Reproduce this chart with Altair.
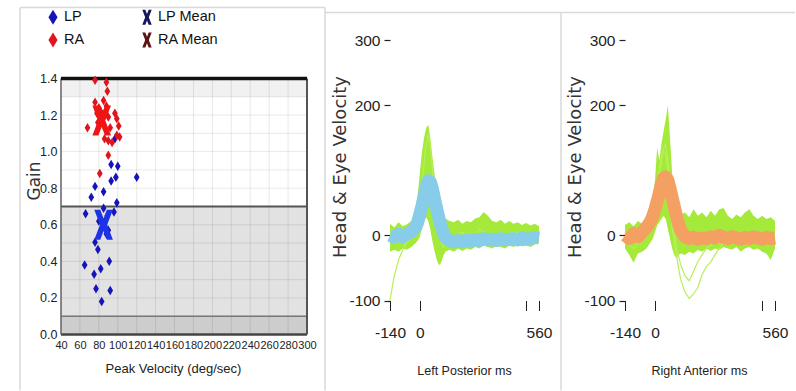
import altair as alt
import pandas as pd

# ---------------- left panel: gain vs peak velocity ----------------
lp_vel = [97, 93, 100, 93, 98, 120, 76, 85, 72, 99, 66, 85, 96, 89, 80, 90, 76, 79, 91, 65, 82, 75, 77, 92, 83, 88]
lp_gain = [1.07, 0.93, 0.92, 0.84, 0.86, 0.86, 0.81, 0.78, 0.75, 0.72, 0.66, 0.69, 0.67, 0.65, 0.62, 0.57, 0.505,
           0.465, 0.40, 0.38, 0.36, 0.33, 0.25, 0.24, 0.18, 0.55]
ra_vel = [76, 88, 89, 76, 85, 80, 78, 82, 88, 97, 99, 90, 84, 79, 68, 92, 101, 99, 102, 86, 90, 94, 90, 81]
ra_gain = [1.39, 1.38, 1.33, 1.27, 1.28, 1.24, 1.21, 1.22, 1.25, 1.21, 1.18, 1.19, 1.15, 1.16, 1.13, 1.13, 1.14,
           1.09, 1.08, 1.07, 1.06, 1.05, 0.98, 0.88]
lp_mean = (85, 0.60)
ra_mean = (83, 1.17)

band_lo = [0.0, 0.1, 0.7, 1.3]
band_hi = [0.1, 0.7, 1.3, 1.4]
band_name = ["low", "gray", "normal", "high"]
vel_ticks = [40, 60, 80, 100, 120, 140, 160, 180, 200, 220, 240, 260, 280, 300]
gain_ticks = [0.0, 0.2, 0.4, 0.6, 0.8, 1.0, 1.2, 1.4]
gain_grid = [0.0, 0.1, 0.2, 0.3, 0.4, 0.5, 0.6, 0.7, 0.8, 0.9, 1.0, 1.1, 1.2, 1.3, 1.4]
series_names = ["LP", "LP Mean", "RA", "RA Mean"]

# ---------------- velocity traces ----------------
times = [-140, -120, -100, -80, -60, -40, -20,
         -10, 0, 10, 20, 30, 40, 50, 60, 70, 80, 90, 100, 110, 120,
         140, 160, 180, 200, 220, 240, 260, 280, 300, 320, 340, 360, 380, 400, 420, 440, 460, 480, 500, 520, 540, 560]

lp_green_hi = [18, 12, 20, 14, 17, 22, 40,
               62, 95, 128, 150, 165, 170, 148, 118, 92, 68, 50, 38, 30, 26,
               22, 20, 24, 18, 22, 20, 26, 28, 36, 30, 22, 20, 24, 18, 22, 18, 20, 16, 19, 15, 18, 14]
lp_green_lo = [-25, -22, -25, -20, -22, -18, -12,
               -8, -2, 10, 22, 28, 22, 8, -10, -25, -38, -46, -42, -32, -25,
               -22, -25, -20, -24, -20, -22, -18, -20, -15, -18, -20, -16, -18, -20, -16, -18, -14, -17, -15, -18, -14, -12]
lp_trace = [-100, -62, -38, -22, -10, -5, 5,
            15, 40, 75, 110, 140, 155, 135, 100, 65, 30, 5, -10, -18, -15,
            -10, -5, 0, 5, 0, -5, 0, 10, 5, 0, -5, 0, 5, 0, -5, 0, 5, 0, -3, 2, 0, -2]
lp_mean_trace = [0, -3, 2, -2, 2, 6, 12,
                 20, 32, 45, 60, 75, 84, 82, 70, 55, 40, 26, 14, 4, -3,
                 -8, -10, -8, -10, -7, -9, -6, -8, -5, -7, -6, -8, -5, -7, -6, -5, -7, -4, -6, -5, -3, -4]

ra_green_hi = [16, 20, 14, 22, 18, 25, 38,
               60, 85, 135, 115, 140, 160, 178, 200, 150, 95, 60, 45, 38, 32,
               35, 28, 40, 30, 35, 28, 38, 30, 40, 42, 30, 25, 32, 28, 35, 40, 30, 25, 30, 25, 28, 22]
ra_green_lo = [-20, -30, -42, -28, -25, -20, -10,
               -5, 5, 15, 20, 25, 30, 25, 10, -5, -20, -30, -35, -30, -28,
               -30, -25, -28, -22, -25, -20, -24, -20, -22, -18, -20, -22, -18, -25, -20, -18, -22, -20, -25, -28, -38, -20]
ra_trace1 = [-10, -15, -20, -12, -8, 0, 10,
             25, 45, 70, 95, 115, 130, 125, 100, 60, 10, -10, -30, -50, -68,
             -87, -97, -90, -80, -60, -48, -41, -30, -20, -12, -8, -12, -6, -10, -4, -8, -2, -6, -3, -8, -4, -6]
ra_trace2 = [5, 0, -8, 2, -5, 3, 15,
             30, 55, 80, 100, 120, 135, 140, 115, 80, 40, 10, -20, -32, -45,
             -62, -70, -55, -40, -30, -20, -15, -8, -12, -5, -8, -3, -10, -4, -6, -2, -8, -4, -6, -2, -5, -3]
ra_mean_trace = [0, -5, 3, -2, 5, 12, 22,
                 30, 40, 52, 65, 78, 88, 90, 85, 72, 58, 44, 30, 18, 8,
                 -2, -5, -3, -6, -4, -5, -2, -4, 0, -3, -5, -2, -4, -6, -3, -5, -2, -4, -6, -3, -5, -4]

# ---------------- styling ----------------
NARROW = "Liberation Sans"
WIDE = "DejaVu Sans"
C_LP, C_RA = "#1414b8", "#e0141c"
C_LPM_LEG, C_RAM_LEG = "#16165a", "#5a1616"
C_LPM, C_RAM = "#1e32e6", "#f01414"
GREEN, GREEN2 = "#a5ea3a", "#b8ef5a"
BLUE, ORANGE = "#87cdea", "#f4a062"
BORDER = "#d9d9d9"
DIAMOND = "M0,-1L0.6,0L0,1L-0.6,0Z"
XSHAPE = "M-0.62,-1L-0.22,-1L0,-0.42L0.22,-1L0.62,-1L0.24,0L0.62,1L0.22,1L0,0.42L-0.22,1L-0.62,1L-0.24,0Z"

W1, H1 = 246, 294.5
W2, W3, H2 = 152, 150, 260.5

one = pd.DataFrame({"k": [0]})

# ---------------- panel 1 ----------------
xs1 = alt.Scale(domain=[40, 300], nice=False, zero=False)
ys1 = alt.Scale(domain=[0, 1.6105], nice=False, zero=False)

ax_x1 = alt.Axis(values=vel_ticks, labelFont=NARROW, labelFontSize=11, labelColor="#222", labelPadding=5,
                 ticks=False, domain=False, grid=False, labelFlush=False, labelOverlap=False,
                 title="Peak Velocity (deg/sec)", titleFont=NARROW, titleFontSize=13, titleFontWeight="normal",
                 titleColor="#222", titleX=112, titleY=34, titleBaseline="middle", titleAlign="center")
ax_y1 = alt.Axis(values=gain_ticks, format=".1f", labelFont=NARROW, labelFontSize=12.5, labelColor="#222",
                 labelPadding=4, ticks=False, domain=False, grid=False, labelOverlap=False,
                 title="Gain", titleFont=WIDE, titleFontSize=17, titleFontWeight="normal", titleColor="#333",
                 titleX=-27, titleY=140.5, titleAngle=270, titleAlign="center", titleBaseline="middle")

bands = alt.Chart(pd.DataFrame({"lo": band_lo, "hi": band_hi, "b": band_name})).mark_rect().encode(
    x=alt.value(0), x2=alt.value(W1),
    y=alt.Y("lo:Q", scale=ys1, axis=None), y2="hi:Q",
    fill=alt.Fill("b:N", scale=alt.Scale(domain=band_name, range=["#cdcdcd", "#e2e2e2", "#ffffff", "#f1f1f1"]),
                  legend=None),
)
vgrid = alt.Chart(pd.DataFrame({"v": vel_ticks})).mark_rule(color="#000", opacity=0.09).encode(
    x=alt.X("v:Q", scale=xs1, axis=None),
    y=alt.YDatum(0, scale=ys1, axis=None), y2=alt.Y2Datum(1.4))
hgrid = alt.Chart(pd.DataFrame({"g": gain_grid})).mark_rule(color="#000", opacity=0.09).encode(
    y=alt.Y("g:Q", scale=ys1, axis=None), x=alt.value(0), x2=alt.value(W1))


def hline(val, color, width):
    return alt.Chart(one).mark_rule(color=color, strokeWidth=width).encode(
        y=alt.YDatum(val, scale=ys1, axis=None), x=alt.value(0), x2=alt.value(W1))


def vline(val, color, width):
    return alt.Chart(one).mark_rule(color=color, strokeWidth=width).encode(
        x=alt.XDatum(val, scale=xs1, axis=None), y=alt.YDatum(0, scale=ys1, axis=None), y2=alt.Y2Datum(1.4))


frame = [hline(0.1, "#777", 1.5), hline(0.7, "#555", 2), hline(0.0, "#444", 2.5),
         vline(40, "#666", 1.5), vline(300, "#555", 2), hline(1.4, "#111", 3.5)]

pts_df = pd.DataFrame({
    "vel": lp_vel + ra_vel,
    "gain": lp_gain + ra_gain,
    "series": ["LP"] * len(lp_vel) + ["RA"] * len(ra_vel),
})
leg = alt.Legend(title=None, orient="none", legendX=-16, legendY=-31, direction="horizontal", columns=2,
                 columnPadding=54, rowPadding=7, symbolSize=230, symbolStrokeWidth=0, labelFont=NARROW,
                 labelFontSize=14.5, labelColor="#111", labelOffset=3, padding=0)
pts = alt.Chart(pts_df).mark_point(filled=True, opacity=1, size=90, strokeWidth=0).encode(
    x=alt.X("vel:Q", scale=xs1, axis=ax_x1),
    y=alt.Y("gain:Q", scale=ys1, axis=ax_y1),
    color=alt.Color("series:N", scale=alt.Scale(domain=series_names, range=[C_LP, C_LPM_LEG, C_RA, C_RAM_LEG]),
                    legend=leg),
    shape=alt.Shape("series:N", scale=alt.Scale(domain=series_names, range=[DIAMOND, XSHAPE, DIAMOND, XSHAPE]),
                    legend=leg),
)


def mean_mark(mv, color):
    return alt.Chart(pd.DataFrame({"vel": [mv[0]], "gain": [mv[1]]})).mark_point(
        filled=True, opacity=1, size=900, strokeWidth=0, shape=XSHAPE, color=color).encode(
        x=alt.X("vel:Q", scale=xs1, axis=None), y=alt.Y("gain:Q", scale=ys1, axis=None))


def rule_px(x, y, x2=None, y2=None, color=BORDER, width=1.5):
    enc = dict(x=alt.value(x), y=alt.value(y))
    if x2 is not None:
        enc["x2"] = alt.value(x2)
    if y2 is not None:
        enc["y2"] = alt.value(y2)
    return alt.Chart(one).mark_rule(color=color, strokeWidth=width).encode(**enc)


anchor = alt.Chart(one).mark_rect(color="white").encode(
    x=alt.value(-61), x2=alt.value(-60), y=alt.value(-39.5), y2=alt.value(-38.5))

p1 = alt.layer(
    anchor, bands, vgrid, hgrid, *frame, pts, mean_mark(ra_mean, C_RAM), mean_mark(lp_mean, C_LPM),
    rule_px(-41, -32.5, y2=350.5), rule_px(-41, -32.5, x2=264), rule_px(264, -32.5, y2=350.5),
).properties(width=W1, height=H1).resolve_axis(x="independent", y="independent")

# ---------------- trace panels ----------------
ys2 = alt.Scale(domain=[-100, 300], nice=False, zero=False)


def trace_axes(title_txt, title_cx):
    axx = alt.Axis(values=[-140, 0, 500, 560], labelExpr="datum.value == 500 ? '' : toString(datum.value)",
                   tickSize=10, tickColor="#222", tickWidth=1, domain=False, grid=False, labelFont=NARROW,
                   labelFontSize=15.5, labelColor="#222", labelPadding=15, labelFlush=False, labelOverlap=False,
                   title=title_txt, titleFont=NARROW, titleFontSize=12.5, titleFontWeight="normal",
                   titleColor="#222", titleX=title_cx, titleY=70, titleBaseline="middle", titleAlign="center")
    axy = alt.Axis(values=[-100, 0, 200, 300], labelExpr="toString(datum.value)", tickSize=6, tickColor="#222",
                   tickWidth=1.2, domain=False, grid=False, labelFont=NARROW, labelFontSize=15.5, labelColor="#222",
                   labelPadding=4, labelOverlap=False,
                   title="Head & Eye Velocity", titleFont=WIDE, titleFontSize=18, titleFontWeight="normal",
                   titleColor="#333", titleX=-50, titleY=126.5, titleAngle=270, titleAlign="center",
                   titleBaseline="middle")
    return axx, axy


# middle panel
xs2 = alt.Scale(domain=[-140, 574], nice=False, zero=False)
ax2x, ax2y = trace_axes("Left Posterior ms", 74)
df2 = pd.DataFrame({"t": times, "lo": lp_green_lo, "hi": lp_green_hi, "tr": lp_trace, "m": lp_mean_trace})
b2 = alt.Chart(df2)
p2 = alt.layer(
    b2.mark_area(color=GREEN, opacity=1).encode(
        x=alt.X("t:Q", scale=xs2, axis=ax2x), y=alt.Y("lo:Q", scale=ys2, axis=ax2y), y2="hi:Q"),
    b2.mark_line(color=GREEN2, strokeWidth=1.2).encode(
        x=alt.X("t:Q", scale=xs2, axis=None), y=alt.Y("tr:Q", scale=ys2, axis=None)),
    b2.mark_line(color=BLUE, strokeWidth=13, strokeJoin="round", strokeCap="butt").encode(
        x=alt.X("t:Q", scale=xs2, axis=None), y=alt.Y("m:Q", scale=ys2, axis=None)),
    rule_px(-65, -27.5, x2=405), rule_px(171, -27.5, y2=350.5),
).properties(width=W2, height=H2).resolve_axis(x="independent", y="independent")

# right panel
xs3 = alt.Scale(domain=[-140, 560], nice=False, zero=False)
ax3x, ax3y = trace_axes("Right Anterior ms", 74)
df3 = pd.DataFrame({"t": times, "lo": ra_green_lo, "hi": ra_green_hi, "tr1": ra_trace1, "tr2": ra_trace2,
                    "m": ra_mean_trace})
b3 = alt.Chart(df3)
p3 = alt.layer(
    b3.mark_area(color=GREEN, opacity=1).encode(
        x=alt.X("t:Q", scale=xs3, axis=ax3x), y=alt.Y("lo:Q", scale=ys2, axis=ax3y), y2="hi:Q"),
    b3.mark_line(color=GREEN2, strokeWidth=1.2).encode(
        x=alt.X("t:Q", scale=xs3, axis=None), y=alt.Y("tr1:Q", scale=ys2, axis=None)),
    b3.mark_line(color=GREEN2, strokeWidth=1.2).encode(
        x=alt.X("t:Q", scale=xs3, axis=None), y=alt.Y("tr2:Q", scale=ys2, axis=None)),
    b3.mark_line(color=ORANGE, strokeWidth=13, strokeJoin="round", strokeCap="butt").encode(
        x=alt.X("t:Q", scale=xs3, axis=None), y=alt.Y("m:Q", scale=ys2, axis=None)),
).properties(width=W3, height=H2).resolve_axis(x="independent", y="independent")

chart = alt.hconcat(p1, p2, p3, spacing=83, bounds="flush").configure_view(stroke=None).properties(
    padding=0, background="white")

chart.save("out.html", embed_options={"renderer": "svg", "actions": False})
